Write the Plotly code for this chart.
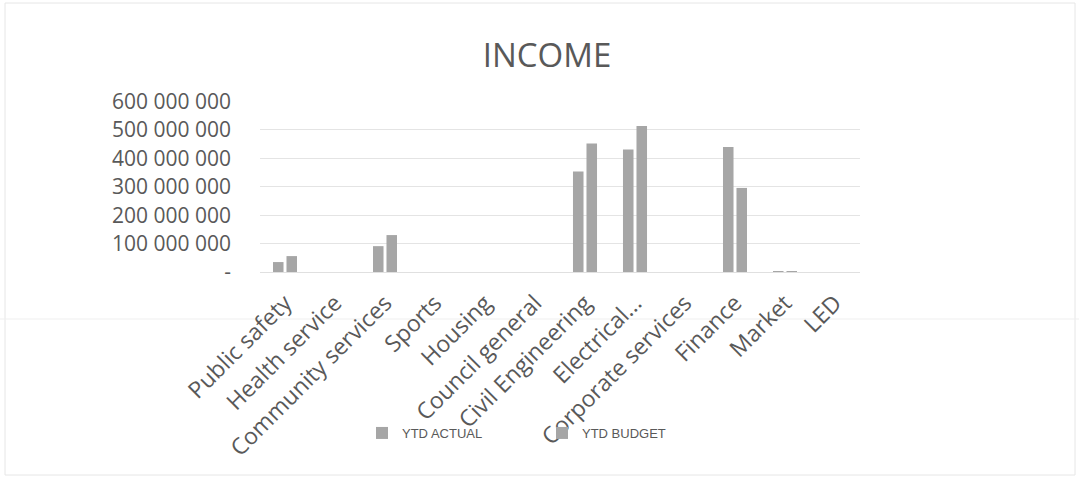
import plotly.graph_objects as go

categories = ["Public safety", "Health service", "Community services", "Sports", "Housing",
              "Council general", "Civil Engineering", "Electrical...", "Corporate services",
              "Finance", "Market", "LED"]
ytd_actual = [35e6, 0, 91e6, 0, 0, 0, 354e6, 431e6, 0, 440e6, 2e6, 0]
ytd_budget = [56e6, 0, 130e6, 0, 0, 0, 452e6, 514e6, 0, 296e6, 2e6, 0]
y_tick_vals = [0, 100e6, 200e6, 300e6, 400e6, 500e6, 600e6]
y_tick_text = ["-", "100 000 000", "200 000 000", "300 000 000", "400 000 000",
               "500 000 000", "600 000 000"]

W, H = 1079, 478
ml, mr, mt, mb = 260, 219, 101, 206
PW, PH = W - ml - mr, H - mt - mb
txt = "#595959"
font = "Open Sans"

fig = go.Figure()
for name, vals in [("YTD ACTUAL", ytd_actual), ("YTD BUDGET", ytd_budget)]:
    fig.add_trace(go.Bar(x=categories, y=vals, name=name,
                         marker=dict(color="#a6a6a6", line=dict(width=0))))

fig.update_layout(
    width=W, height=H,
    margin=dict(l=ml, r=mr, t=mt, b=mb),
    paper_bgcolor="white", plot_bgcolor="white",
    barmode="group", bargap=0.46, bargroupgap=0.22,
    title=dict(text="INCOME", x=(547 - ml) / PW, xref="paper", xanchor="center",
               y=1 - 55 / H, yanchor="middle",
               font=dict(family=font, size=33, color=txt)),
    font=dict(family=font, color=txt),
    showlegend=True,
    legend=dict(orientation="h", x=(362 - ml) / PW, xanchor="left",
                y=(H - mb - 433) / PH, yanchor="middle",
                font=dict(family="Liberation Sans Narrow, Arial Narrow, Liberation Sans", size=13, color=txt),
                entrywidth=135, entrywidthmode="pixels", itemwidth=30,
                bgcolor="rgba(0,0,0,0)"),
    xaxis=dict(tickangle=-45, tickfont=dict(family=font, size=23, color=txt),
               showgrid=False, showline=False, ticks="", ticklabelstandoff=12),
    yaxis=dict(range=[0, 602e6], tickvals=y_tick_vals, ticktext=y_tick_text,
               tickfont=dict(family=font, size=21, color=txt),
               showgrid=True, gridcolor="#e4e4e4", gridwidth=1, zeroline=True,
               zerolinecolor="#e0e0e0", zerolinewidth=1,
               showline=False, ticks="", ticklabelstandoff=28),
    shapes=[
        dict(type="rect", xref="paper", yref="paper", x0=(5 - ml) / PW, x1=1 + (mr - 4) / PW,
             y0=-(mb - 3) / PH, y1=1 + (mt - 3) / PH,
             line=dict(color="#e6e6e6", width=1), layer="below"),
        dict(type="line", xref="paper", yref="paper", x0=-ml / PW, x1=1 + mr / PW,
             y0=(H - mb - 319) / PH, y1=(H - mb - 319) / PH,
             line=dict(color="#efefef", width=1), layer="below"),
    ],
)

fig.write_html("out.html")
